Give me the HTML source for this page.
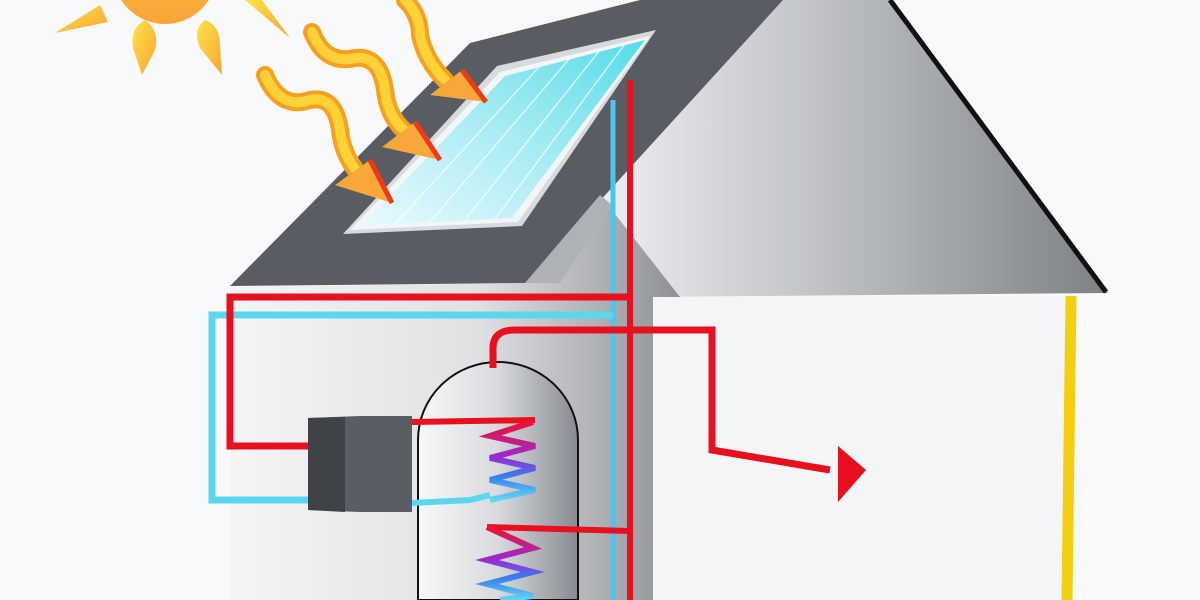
<!DOCTYPE html>
<html><head><style>html,body{margin:0;padding:0;background:#f7f9fa;}svg{display:block}</style></head>
<body>
<svg width="1200" height="600" viewBox="0 0 1200 600" xmlns="http://www.w3.org/2000/svg">
<defs>
<linearGradient id="wall" x1="0" x2="1" y1="0" y2="0">
<stop offset="0" stop-color="#f4f5f6"/><stop offset="0.55" stop-color="#dfe1e3"/><stop offset="1" stop-color="#8d9196"/></linearGradient>
<linearGradient id="rroof" x1="0" x2="1" y1="0" y2="0">
<stop offset="0" stop-color="#eceef0"/><stop offset="0.4" stop-color="#c3c6ca"/><stop offset="1" stop-color="#7d8186"/></linearGradient>
<linearGradient id="tank" x1="0" x2="1" y1="0" y2="0">
<stop offset="0" stop-color="#f7f8f9"/><stop offset="0.5" stop-color="#d8dadd"/><stop offset="1" stop-color="#878b91"/></linearGradient>
<linearGradient id="panel" x1="0" x2="1" y1="1" y2="0">
<stop offset="0" stop-color="#eafafd"/><stop offset="0.5" stop-color="#a8ecf3"/><stop offset="1" stop-color="#55dbe9"/></linearGradient>
<linearGradient id="coil" x1="0" x2="0" y1="0" y2="1">
<stop offset="0" stop-color="#f01030"/><stop offset="0.45" stop-color="#9a2ad0"/><stop offset="0.7" stop-color="#3a7ef0"/><stop offset="1" stop-color="#5fd8f2"/></linearGradient>
<linearGradient id="ray" x1="0" x2="1" y1="0" y2="1">
<stop offset="0" stop-color="#ffe24a"/><stop offset="1" stop-color="#f6a530"/></linearGradient>
<linearGradient id="sun" x1="0" x2="0" y1="0" y2="1">
<stop offset="0" stop-color="#ffd23a"/><stop offset="1" stop-color="#f7a43a"/></linearGradient>
</defs>
<rect width="1200" height="600" fill="#f7f9fa"/>
<!-- right roof -->
<polygon points="783,0 890,0 1108,293 655,297 600,195" fill="url(#rroof)"/>
<line x1="890" y1="0" x2="1106" y2="292" stroke="#111" stroke-width="5"/>
<!-- side wall -->
<rect x="653" y="297" width="412" height="303" fill="#f3f5f6"/>
<line x1="1071" y1="296" x2="1067" y2="600" stroke="#f2cf10" stroke-width="11"/>
<!-- front wall with gable -->
<polygon points="230,287 525,283 600,195 680,297 653,297 653,600 230,600" fill="url(#wall)"/>
<!-- dark roof -->
<polygon points="230,286 470,43 640,0 783,0 525,283" fill="#595d63"/>
<polygon points="525,283 600,195 612,205 560,283" fill="#aeb2b6"/>
<!-- panel frame -->
<polygon points="343,234 497,66 656,30 522,226" fill="#d8dbdd"/>
<polygon points="350,230 500,72 650,36 518,222" fill="#f3f6f7"/>
<polygon points="362,226 505,76 645,40 512,218" fill="url(#panel)"/>
<g stroke="#ffffff" stroke-width="1.2" opacity="0.8">
<line x1="395" y1="224" x2="540" y2="66"/><line x1="430" y1="222" x2="570" y2="58"/><line x1="465" y1="220" x2="600" y2="50"/><line x1="495" y1="219" x2="625" y2="44"/></g>
<!-- tank -->
<path d="M418,600 V440 A80,78 0 0 1 578,440 V600 Z" fill="url(#tank)" stroke="#111" stroke-width="2"/>
<!-- pipes -->
<g fill="none" stroke-linejoin="miter">
<polyline points="613,100 613,600" stroke="#4ec4ee" stroke-width="5"/>
<polyline points="613,315 212,315 212,500 318,500" stroke="#5ad6f0" stroke-width="7"/>
<polyline points="412,503 470,500 490,495" stroke="#5ad6f0" stroke-width="6"/>
<polyline points="630,80 630,600" stroke="#e8101e" stroke-width="6"/>
<polyline points="630,297 230,297 230,446 320,446" stroke="#e8101e" stroke-width="7"/>
<polyline points="412,422 535,420" stroke="#e8101e" stroke-width="6"/>
<path d="M493,368 V348 Q493,330 515,330 H712 V450 L830,470" stroke="#e8101e" stroke-width="7"/>
<polyline points="630,531 487,527" stroke="#e8101e" stroke-width="6"/>
<polyline points="533,422 490,436 535,446 490,458 535,468 490,480 535,490 490,500" stroke="url(#coil)" stroke-width="6"/>
<polyline points="487,527 533,548 487,560 533,572 487,584 533,596 500,600" stroke="url(#coil)" stroke-width="6"/>
</g>
<polygon points="838,446 866,470 838,502" fill="#e8101e"/>
<!-- box -->
<polygon points="308,418 360,416 412,416 412,512 360,512 308,510" fill="#595e64"/>
<polygon points="308,418 345,417 345,512 308,510" fill="#3f4347"/>
<!-- sun -->
<circle cx="165" cy="-28" r="52" fill="url(#sun)"/>
<g fill="url(#ray)">
<path d="M55,33 L100,5 L108,22 Z"/>
<path d="M145,20 Q160,30 155,50 L142,75 L133,48 Q130,28 145,20Z"/>
<path d="M205,20 Q220,25 220,45 L222,75 L200,48 Q192,30 205,20Z"/>
<path d="M245,0 L290,38 L262,0 Z"/>
</g>
<!-- wavy arrows -->
<g fill="none" stroke-linecap="round">
<path d="M265,75 Q280,110 310,100 Q335,95 340,130 Q343,160 365,180" stroke="#f6a020" stroke-width="18"/>
<path d="M265,75 Q280,110 310,100 Q335,95 340,130 Q343,160 365,180" stroke="#ffd23a" stroke-width="10"/>
<path d="M312,32 Q325,65 355,58 Q380,55 385,90 Q388,120 410,135" stroke="#f6a020" stroke-width="18"/>
<path d="M312,32 Q325,65 355,58 Q380,55 385,90 Q388,120 410,135" stroke="#ffd23a" stroke-width="10"/>
<path d="M405,0 Q420,15 420,35 Q425,60 445,80" stroke="#f6a020" stroke-width="18"/>
<path d="M405,0 Q420,15 420,35 Q425,60 445,80" stroke="#ffd23a" stroke-width="10"/>
</g>
<g fill="#f8a83a" stroke="#e8321a" stroke-width="0">
<polygon points="335,185 370,160 392,203"/><polygon points="382,147 415,122 440,160"/><polygon points="430,95 462,70 486,102"/>
</g>
<g stroke="#ee3a1a" stroke-width="5">
<line x1="370" y1="160" x2="392" y2="203"/><line x1="415" y1="122" x2="440" y2="160"/><line x1="462" y1="70" x2="486" y2="102"/>
</g>
</svg>
</body></html>
